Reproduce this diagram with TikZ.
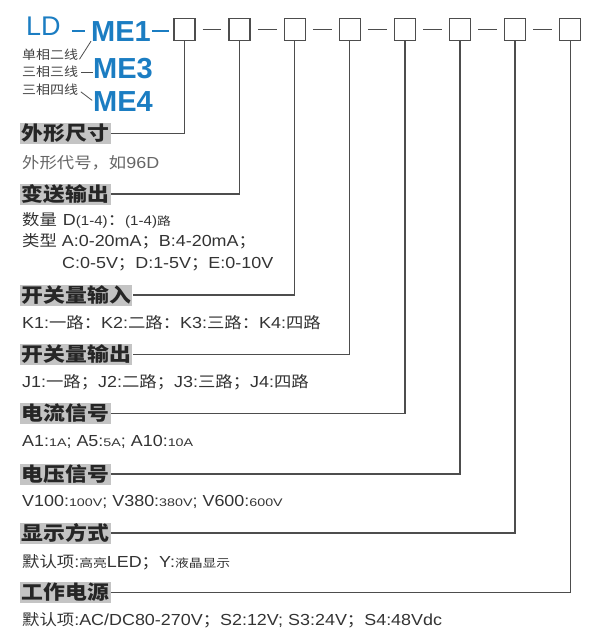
\documentclass[tikz,border=0pt]{standalone}
\usepackage{fontspec}
\setmainfont{Liberation Sans}[FakeStretch=1.12]
\newfontfamily\arial{Liberation Sans}
\newfontfamily\cjk{Noto Sans CJK SC}[FakeStretch=1.12]
\newfontfamily\cjksmall{Noto Sans CJK SC}[FakeStretch=1.2]
\newfontfamily\latsmall{Liberation Sans}[FakeStretch=1.3]
\usepackage{tikz}
\usetikzlibrary{positioning}

\definecolor{ldblue}{HTML}{1B7DC2}
\definecolor{headgray}{HTML}{C4C4C4}
\definecolor{linegray}{HTML}{4D4D4D}

\newcommand{\zh}[1]{{\cjk\fontsize{15.5}{18}\selectfont #1}}
\newcommand{\zs}[1]{{\cjksmall\fontsize{11.5}{13}\selectfont #1}}
\newcommand{\ls}[1]{{\latsmall\fontsize{11}{13}\selectfont #1}}
\newcommand{\lm}[1]{{\fontsize{13.5}{15}\selectfont #1}}

\begin{document}
\begin{tikzpicture}[x=1pt,y=-1pt,
  wire/.style={draw=linegray,line width=1.3pt},
  blue dash/.style={draw=ldblue,line width=1.6pt},
  thin wire/.style={draw=linegray,line width=0.8pt},
  box node/.style={draw=linegray,line width=1.3pt,minimum width=21pt,minimum height=22pt,inner sep=0pt},
  model node/.style={anchor=base west,inner sep=0pt,text=ldblue,font=\arial\bfseries\fontsize{29}{30}\selectfont},
  kind node/.style={anchor=west,inner sep=0pt,text=black!75,font=\cjk\fontsize{12.5}{14}\selectfont},
  head node/.style={anchor=west,fill=headgray,inner xsep=1.5pt,inner ysep=0pt,minimum height=21pt,text=black!85,font=\cjk\bfseries\fontsize{19.5}{21}\selectfont},
  note node/.style={anchor=west,inner sep=0pt,text=black!80,font=\fontsize{16}{18}\selectfont}]

  \useasboundingbox (0,0) rectangle (599,638);

  % model code
  \node[anchor=base west,inner sep=0pt,text=ldblue,font=\arial\fontsize{27}{28}\selectfont] (LD) at (26,35) {LD};
  \node[model node] (ME1) at (91,41) {ME1};
  \node[model node] (ME3) at (93,78) {ME3};
  \node[model node] (ME4) at (93,111) {ME4};
  \node[kind node] (k1) at (22,55) {单相二线};
  \node[kind node] (k3) at (22,72) {三相三线};
  \node[kind node] (k4) at (22,90) {三相四线};

  \draw[blue dash,shorten <=11pt,shorten >=6pt] (LD.east |- ME1.west) -- (ME1.west);
  \draw[thin wire,shorten <=2pt] (k1.south east) -- (ME1.south west);
  \draw[thin wire,shorten <=3pt] (k3.east) -- (k3.east -| ME3.west);
  \draw[thin wire,shorten <=3pt,shorten >=1pt] (k4.east) -- (ME4.west);

  % option boxes
  \node[box node] (b1) at (184.5,29.5) {};
  \foreach \prev/\cur in {b1/b2,b2/b3,b3/b4,b4/b5,b5/b6,b6/b7,b7/b8}
    \node[box node,right=32.8pt of \prev] (\cur) {};
  \draw[blue dash,shorten <=1pt,shorten >=4pt] (ME1.east) -- (ME1.east -| b1.west);
  \foreach \prev/\cur in {b1/b2,b2/b3,b3/b4,b4/b5,b5/b6,b6/b7,b7/b8}
    \draw[wire,shorten <=7pt,shorten >=7pt] (\prev.east) -- (\cur.west);

  % headings
  \node[head node] (h1) at (20,133.5) {外形尺寸};
  \node[head node] (h2) at (20,194) {变送输出};
  \node[head node] (h3) at (20,295) {开关量输入};
  \node[head node] (h4) at (20,354.5) {开关量输出};
  \node[head node] (h5) at (20,413.5) {电流信号};
  \node[head node] (h6) at (20,474) {电压信号};
  \node[head node] (h7) at (20,533) {显示方式};
  \node[head node] (h8) at (20,592.5) {工作电源};
  \foreach \i in {1,...,8}
    \draw[wire] (b\i.south) |- (h\i.east);

  % notes
  \node[note node,text=black!60] (n1) at (22,163) {\zh{外形代号，如}96D};
  \node[note node] (n2a) at (22,220) {\zh{数量}\hspace{6pt}D\lm{(1-4)}\zh{：}\lm{(1-4)}\zs{路}};
  \node[note node] (n2b) at (22,241) {\zh{类型} A:0-20mA\zh{；}B:4-20mA\zh{；}};
  \node[note node] (n2c) at (62,264) {C:0-5V\zh{；}D:1-5V\zh{；}E:0-10V};
  \node[note node] (n3) at (22,323) {K1:\zh{一路：}K2:\zh{二路：}K3:\zh{三路：}K4:\zh{四路}};
  \node[note node] (n4) at (22,382) {J1:\zh{一路；}J2:\zh{二路；}J3:\zh{三路；}J4:\zh{四路}};
  \node[note node] (n5) at (22,442) {A1:\ls{1A}; A5:\ls{5A}; A10:\ls{10A}};
  \node[note node] (n6) at (22,502) {V100:\ls{100V}; V380:\ls{380V}; V600:\ls{600V}};
  \node[note node] (n7) at (22,562) {\zh{默认项}:\zs{高亮}LED\zh{；}Y:\zs{液晶显示}};
  \node[note node] (n8) at (22,620) {\zh{默认项}:AC/DC80-270V\zh{；}S2:12V; S3:24V\zh{；}S4:48Vdc};
\end{tikzpicture}
\end{document}
